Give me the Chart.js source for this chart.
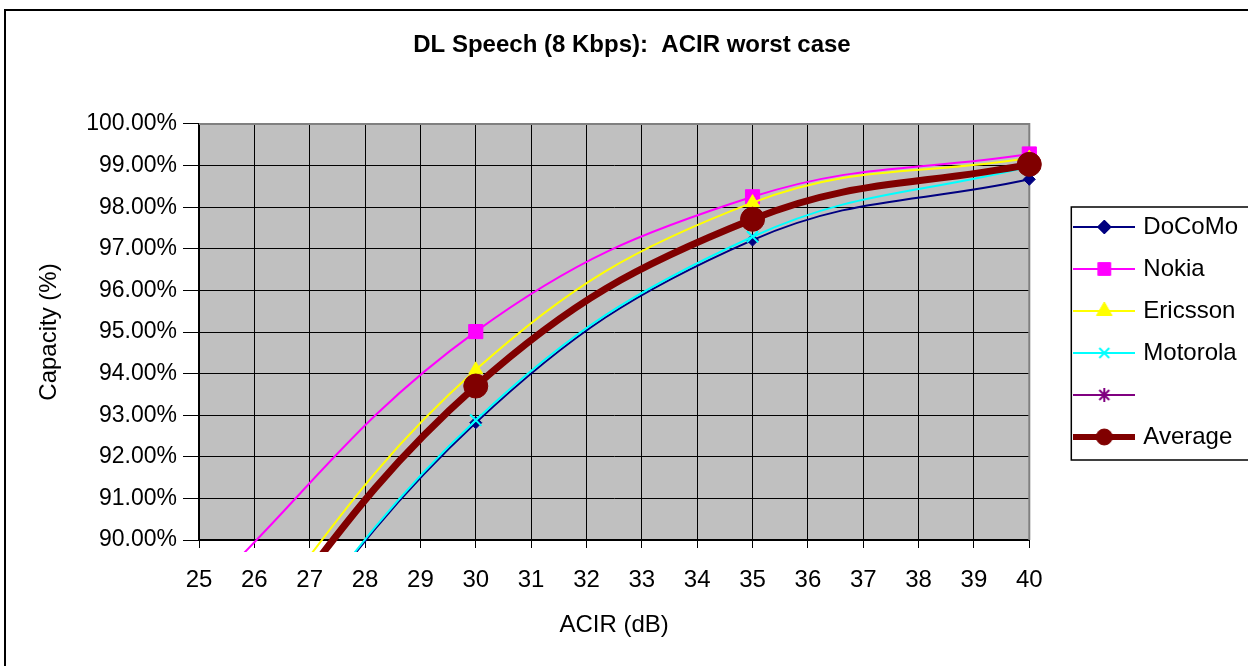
<!doctype html>
<html lang="en">
<head>
<meta charset="utf-8">
<title>DL Speech (8 Kbps): ACIR worst case</title>
<script src="https://cdn.jsdelivr.net/npm/chart.js@4.4.1/dist/chart.umd.min.js"></script>
<style>
  body { margin: 0; background: #fff; }
  #wrap { position: relative; width: 1248px; height: 666px; }
</style>
</head>
<body>
<div id="wrap"><canvas id="myChart"></canvas></div>
<script>
// ACIR (dB) sample points, capacity in %
const acir = [25, 30, 35, 40];
const docomo = [84.8, 92.82, 97.21, 98.67];
const nokia = [88.6, 95.01, 98.25, 99.28];
const ericsson = [86.2, 94.09, 98.11, 99.18];
const motorola = [84.8, 92.88, 97.29, 98.98];
const unnamed = [];
const average = [85.9, 93.70, 97.71, 99.03];

const names = ['DoCoMo', 'Nokia', 'Ericsson', 'Motorola', '', 'Average'];
const values = [docomo, nokia, ericsson, motorola, unnamed, average];
const colors = ['#000080', '#ff00ff', '#ffff00', '#00ffff', '#800080', '#800000'];
const markers = ['rectRot', 'rect', 'triangle', 'crossRot', 'star', 'circle'];
const markerSize = [6, 10, 8, 8, 8, 12];
const legendMarkerSize = [7, 9, 9, 7, 7, 8];
const lineWidths = [2, 2, 2, 2, 2, 7];

const FONT = "'Liberation Sans', Arial, sans-serif";

// little line + marker picture for the legend
function makeIcon(i) {
  const c = document.createElement('canvas');
  c.width = 62;
  c.height = 24;
  const g = c.getContext('2d');
  g.strokeStyle = colors[i];
  g.lineWidth = i == 5 ? 6 : 2;
  g.beginPath();
  g.moveTo(0, 12);
  g.lineTo(62, 12);
  g.stroke();
  g.fillStyle = colors[i];
  g.strokeStyle = colors[i];
  g.lineWidth = (markers[i] == 'crossRot' || markers[i] == 'star') ? 2 : 1;
  Chart.helpers.drawPoint(g, {pointStyle: markers[i], radius: legendMarkerSize[i], borderWidth: g.lineWidth, rotation: 0}, 31, 12);
  return c;
}

const datasets = names.map((name, i) => ({
  label: name,
  data: values[i].map((v, j) => ({x: acir[j], y: v})),
  borderColor: colors[i],
  backgroundColor: colors[i],
  borderWidth: lineWidths[i],
  pointStyle: markers[i],
  pointRadius: markerSize[i],
  pointBorderWidth: (markers[i] == 'crossRot' || markers[i] == 'star') ? 2 : 1,
  pointBackgroundColor: colors[i],
  pointBorderColor: colors[i],
  tension: 0.4,
  clip: {left: 0, top: 20, right: 20, bottom: 12},
  order: names.length - i
}));

const decor = {
  id: 'decor',
  beforeDraw(chart) {
    const {ctx, chartArea: a} = chart;
    ctx.save();
    ctx.fillStyle = '#ffffff';
    ctx.fillRect(0, 0, chart.width, chart.height);
    ctx.strokeStyle = '#000';
    ctx.lineWidth = 2;
    ctx.strokeRect(5, 10, chart.width + 20, chart.height + 20);
    ctx.fillStyle = '#c0c0c0';
    ctx.fillRect(a.left, a.top, a.right - a.left, a.bottom - a.top);
    ctx.restore();
  },
  beforeDatasetsDraw(chart) {
    const {ctx, chartArea: a} = chart;
    ctx.save();
    ctx.strokeStyle = '#808080';
    ctx.lineWidth = 2;
    ctx.beginPath();
    ctx.moveTo(a.left, a.top);
    ctx.lineTo(a.right, a.top);
    ctx.lineTo(a.right, a.bottom);
    ctx.stroke();
    ctx.restore();
  },
  afterDraw(chart) {
    const lg = chart.legend;
    const ctx = chart.ctx;
    const pad = 18, step = 42;
    const colH = names.length * step;
    const y0 = (lg.top + pad + lg.bottom - colH) / 2;
    ctx.save();
    ctx.strokeStyle = '#000';
    ctx.lineWidth = 1.5;
    ctx.strokeRect(lg.left + 12, y0 - 8, 400, colH + 1);
    ctx.restore();
  }
};

new Chart(document.getElementById('myChart'), {
  type: 'line',
  data: {datasets: datasets},
  options: {
    responsive: true,
    maintainAspectRatio: false,
    animation: false,
    events: [],
    layout: {padding: {left: 16, top: 10, right: 0, bottom: 0}},
    elements: {line: {capBezierPoints: false}},
    plugins: {
      tooltip: {enabled: false},
      title: {
        display: true,
        text: 'DL Speech (8 Kbps):  ACIR worst case',
        color: '#000',
        font: {family: FONT, size: 24, weight: 'bold'},
        padding: {top: 20.6, bottom: 64.6}
      },
      legend: {
        position: 'right',
        fullSize: false,
        labels: {
          usePointStyle: true,
          pointStyleWidth: 54,
          padding: 18,
          color: '#000',
          font: {family: FONT, size: 24},
          generateLabels: chart => names.map((n, i) => ({
            text: n,
            pointStyle: makeIcon(i),
            fillStyle: colors[i],
            strokeStyle: colors[i],
            lineWidth: 0,
            hidden: false,
            datasetIndex: i
          }))
        }
      }
    },
    scales: {
      x: {
        type: 'linear',
        min: 25,
        max: 40,
        afterFit: s => { s.height = 126; },
        ticks: {stepSize: 1, color: '#000', font: {family: FONT, size: 24}, padding: 18, maxRotation: 0},
        grid: {color: '#000', lineWidth: 1, tickLength: 8},
        border: {color: '#000', width: 2},
        title: {display: true, text: 'ACIR (dB)', color: '#000', font: {family: FONT, size: 24}, padding: {top: 0, bottom: 26.6}}
      },
      y: {
        min: 90,
        max: 100,
        afterFit: s => { s.width = 183; },
        ticks: {stepSize: 1, color: '#000', font: {family: FONT, size: 23}, padding: 6, callback: v => v.toFixed(2) + '%'},
        grid: {color: '#000', lineWidth: 1, tickLength: 16},
        border: {color: '#000', width: 2},
        title: {display: true, text: 'Capacity (%)', color: '#000', font: {family: FONT, size: 24}, padding: {top: 18.6, bottom: 0}}
      },
      gap: {
        type: 'linear',
        position: 'right',
        display: true,
        afterFit: s => { s.width = 30; },
        ticks: {display: false},
        grid: {display: false},
        border: {display: false}
      }
    }
  },
  plugins: [decor]
});
</script>
</body>
</html>
